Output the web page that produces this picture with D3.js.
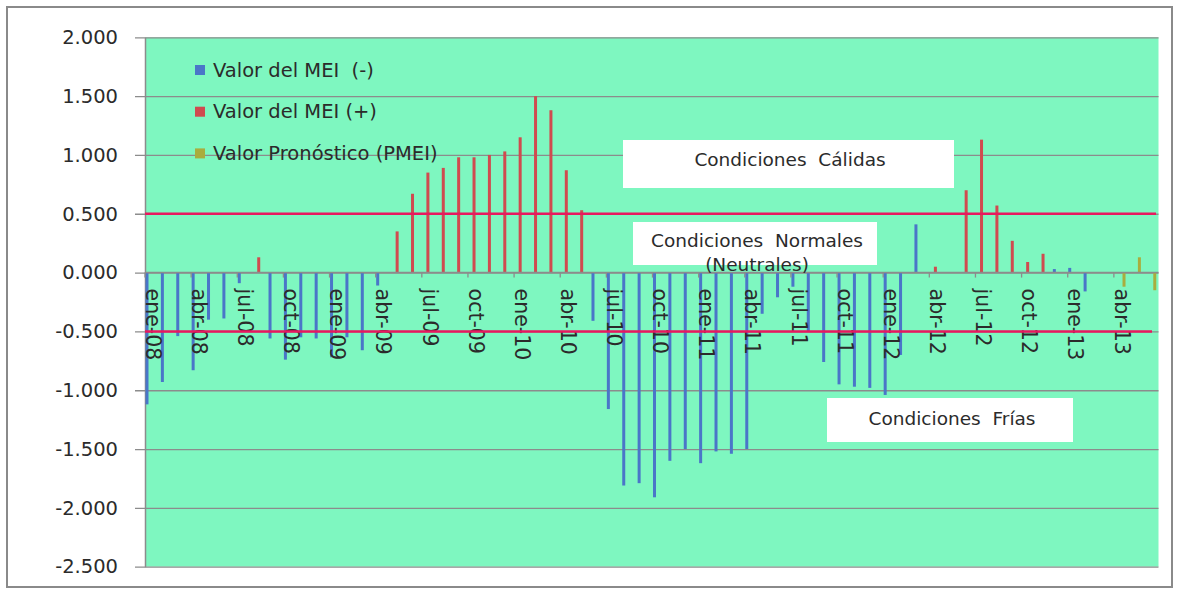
<!DOCTYPE html>
<html><head><meta charset="utf-8">
<script src="https://cdn.jsdelivr.net/npm/d3@7"></script>
<style>
body{margin:0;background:#fff}
svg{display:block}
text{font-family:"DejaVu Sans",sans-serif;fill:#2b2b2b}
</style>
</head><body>
<svg id="c" width="1179" height="591"></svg>
<script>
// ---------------- data ----------------
const categories = [
 "ene-08","feb-08","mar-08","abr-08","may-08","jun-08","jul-08","ago-08","sep-08","oct-08","nov-08","dic-08",
 "ene-09","feb-09","mar-09","abr-09","may-09","jun-09","jul-09","ago-09","sep-09","oct-09","nov-09","dic-09",
 "ene-10","feb-10","mar-10","abr-10","may-10","jun-10","jul-10","ago-10","sep-10","oct-10","nov-10","dic-10",
 "ene-11","feb-11","mar-11","abr-11","may-11","jun-11","jul-11","ago-11","sep-11","oct-11","nov-11","dic-11",
 "ene-12","feb-12","mar-12","abr-12","may-12","jun-12","jul-12","ago-12","sep-12","oct-12","nov-12","dic-12",
 "ene-13","feb-13","mar-13","abr-13","may-13","jun-13"
];
// Valor del MEI (-)  (blue series)
const meiNeg = [
 -1.12,-0.93,-0.54,-0.83,-0.40,-0.39,-0.09,null,-0.56,-0.74,-0.55,-0.56,
 -0.72,-0.55,-0.66,-0.11,null,null,null,null,null,null,null,null,
 null,null,null,null,null,-0.41,-1.16,-1.81,-1.79,-1.91,-1.60,-1.50,
 -1.62,-1.52,-1.54,-1.50,-0.35,-0.21,-0.12,-0.50,-0.76,-0.95,-0.97,-0.98,
 -1.04,-0.70,0.41,null,null,null,null,null,null,null,null,0.03,
 0.04,-0.16,null,null,null,null
];
// Valor del MEI (+)  (red series)
const meiPos = [
 null,null,null,null,null,null,null,0.13,null,null,null,null,
 null,null,null,null,0.35,0.67,0.85,0.89,0.98,0.98,1.00,1.03,
 1.15,1.50,1.38,0.87,0.53,null,null,null,null,null,null,null,
 null,null,null,null,null,null,null,null,null,null,null,null,
 null,null,null,0.05,null,0.70,1.13,0.57,0.27,0.09,0.16,null,
 null,null,null,null,null,null
];
// Valor Pronóstico (PMEI)  (olive series)
const pmei = [
 null,null,null,null,null,null,null,null,null,null,null,null,
 null,null,null,null,null,null,null,null,null,null,null,null,
 null,null,null,null,null,null,null,null,null,null,null,null,
 null,null,null,null,null,null,null,null,null,null,null,null,
 null,null,null,null,null,null,null,null,null,null,null,null,
 null,null,null,-0.12,0.13,-0.15
];
const yTicks = [2.0,1.5,1.0,0.5,0.0,-0.5,-1.0,-1.5,-2.0,-2.5];
const xTickLabels = categories.filter((d,i)=>i%3===0);
const seriesNames = ["Valor del MEI  (-)","Valor del MEI (+)","Valor Pronóstico (PMEI)"];
const seriesColors = ["#4a76c8","#d04b4f","#a9ad3e"];
const thresholds = [0.5,-0.5];
const annotations = [
 {lines:["Condiciones  Cálidas"]},
 {lines:["Condiciones  Normales","(Neutrales)"]},
 {lines:["Condiciones  Frías"]}
];

// ---------------- layout ----------------
const L = 145, R = 1160, T = 37.3, B = 566.7, greenR = 1158.5;
const svg = d3.select("#c");
const fmt = d3.formatLocale({decimal:".",thousands:",",grouping:[3],currency:["",""],minus:"-"}).format(".3f");

const x = d3.scaleBand().domain(categories).range([L,R]).padding(0);
const bw = x.bandwidth();
const inner = d3.scalePoint().domain(["neg","pos","pron"]).range([bw*0.13,bw*0.66]);
const y = d3.scaleLinear().domain([-2.5,2]).range([B,T]);

// outer border
svg.append("rect").attr("x",7).attr("y",7).attr("width",1165).attr("height",580)
  .attr("fill","#fff").attr("stroke","#8a8a8a").attr("stroke-width",2);

// plot background
svg.append("rect").attr("x",L).attr("y",T).attr("width",greenR-L).attr("height",B-T).attr("fill","#7ef7c0");

// gridlines + y labels
const yAxis = d3.axisLeft(y).tickValues(yTicks).tickSize(-(greenR-L)).tickSizeOuter(0).tickFormat(fmt).tickPadding(16);
const ga = svg.append("g").attr("transform",`translate(${L},0)`).call(yAxis);
ga.select(".domain").attr("stroke","#8c8c8c").attr("stroke-width",1.5);
ga.selectAll(".tick line").attr("stroke","#8c8c8c").attr("stroke-width",1.3).attr("x1",-10);
ga.selectAll(".tick text").attr("font-size",19.5).attr("fill","#2b2b2b").attr("x",-27)
  .style("font-family","DejaVu Sans, sans-serif");

// bars
function drawSeries(vals,key,color){
  const data = categories.map((c,i)=>({c,v:vals[i]})).filter(d=>d.v!==null);
  svg.append("g").selectAll("rect").data(data).join("rect")
    .attr("x",d=>x(d.c)+inner(key)-1.5)
    .attr("width",3)
    .attr("y",d=>y(Math.max(0,d.v)))
    .attr("height",d=>Math.abs(y(d.v)-y(0)))
    .attr("fill",color);
}
drawSeries(meiNeg,"neg",seriesColors[0]);
drawSeries(meiPos,"pos",seriesColors[1]);
drawSeries(pmei,"pron",seriesColors[2]);

// zero axis
svg.append("line").attr("x1",L).attr("x2",greenR).attr("y1",y(0)).attr("y2",y(0))
  .attr("stroke","#8c8c8c").attr("stroke-width",1.5);
const tickCats = categories.filter((d,i)=>i%3===0);
svg.append("g").selectAll("line").data(tickCats).join("line")
  .attr("x1",d=>x(d)).attr("x2",d=>x(d)).attr("y1",y(0)).attr("y2",y(0)+5)
  .attr("stroke","#8c8c8c").attr("stroke-width",1.3);

// x labels (rotated)
svg.append("g").selectAll("text").data(xTickLabels).join("text")
  .attr("transform",d=>`translate(${x(d)+bw/2},${y(0)+16}) rotate(90)`)
  .attr("text-anchor","start").attr("dominant-baseline","central")
  .attr("font-size",20.5).text(d=>d);

// threshold lines
const thrEnd = [1156,1152];
svg.append("g").selectAll("line").data(thresholds).join("line")
  .attr("x1",L).attr("x2",(d,i)=>thrEnd[i]).attr("y1",d=>y(d)).attr("y2",d=>y(d))
  .attr("stroke","#e8185f").attr("stroke-width",2.5);

// legend
const lg = svg.append("g");
seriesNames.forEach((n,i)=>{
  const cy = 70 + i*41.7;
  lg.append("rect").attr("x",195).attr("y",cy-5).attr("width",10).attr("height",10).attr("fill",seriesColors[i]);
  lg.append("text").attr("x",213).attr("y",cy).attr("dominant-baseline","central")
    .attr("font-size",19.5).style("white-space","pre").text(n);
});

// annotation boxes
const boxes = [
 {x:623,y:140,w:331,h:48,cx:790,cy:[159]},
 {x:633,y:222,w:244,h:43,cx:757,cy:[240,264]},
 {x:827,y:398,w:246,h:44,cx:952,cy:[418]}
];
annotations.forEach((a,i)=>{
  const b = boxes[i];
  svg.append("rect").attr("x",b.x).attr("y",b.y).attr("width",b.w).attr("height",b.h).attr("fill","#fff");
  a.lines.forEach((t,j)=>{
    svg.append("text").attr("x",b.cx).attr("y",b.cy[j]).attr("text-anchor","middle")
      .attr("dominant-baseline","central").attr("font-size",18.5).attr("fill","#333")
      .style("white-space","pre").text(t);
  });
});
</script>
</body></html>
